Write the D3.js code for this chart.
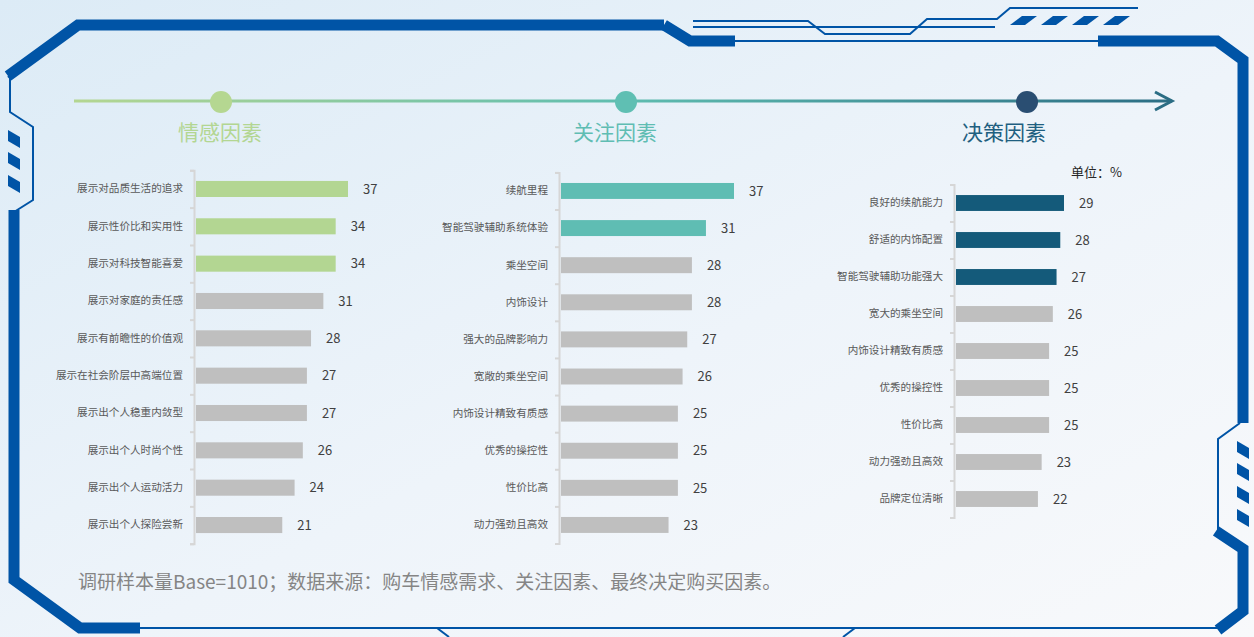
<!DOCTYPE html>
<html>
<head>
<meta charset="utf-8">
<script src="https://cdn.jsdelivr.net/npm/d3@7"></script>
<style>
  html, body { margin: 0; padding: 0; overflow: hidden; }
  body { width: 1254px; height: 637px; font-family: "Noto Sans CJK SC", "Noto Sans", sans-serif; }
</style>
</head>
<body>
<div id="chart-area"></div>
<script>
// data
const emotionNames = ["展示对品质生活的追求", "展示性价比和实用性", "展示对科技智能喜爱", "展示对家庭的责任感",
  "展示有前瞻性的价值观", "展示在社会阶层中高端位置", "展示出个人稳重内敛型", "展示出个人时尚个性",
  "展示出个人运动活力", "展示出个人探险尝新"];
const emotionValues = [37, 34, 34, 31, 28, 27, 27, 26, 24, 21];

const focusNames = ["续航里程", "智能驾驶辅助系统体验", "乘坐空间", "内饰设计", "强大的品牌影响力",
  "宽敞的乘坐空间", "内饰设计精致有质感", "优秀的操控性", "性价比高", "动力强劲且高效"];
const focusValues = [37, 31, 28, 28, 27, 26, 25, 25, 25, 23];

const decisionNames = ["良好的续航能力", "舒适的内饰配置", "智能驾驶辅助功能强大", "宽大的乘坐空间",
  "内饰设计精致有质感", "优秀的操控性", "性价比高", "动力强劲且高效", "品牌定位清晰"];
const decisionValues = [29, 28, 27, 26, 25, 25, 25, 23, 22];

const titles = ["情感因素", "关注因素", "决策因素"];
const unitLabel = "单位：%";
const footnote = "调研样本量Base=1010；数据来源：购车情感需求、关注因素、最终决定购买因素。";

const main = () => {
  const size = { width: 1254, height: 637 };
  const frameBlue = "#0054a6";
  const grey = "#bfbfbf";

  const svg = d3.select("#chart-area")
    .append("svg")
    .attr("width", size.width)
    .attr("height", size.height);

  const defs = svg.append("defs");
  const bg = defs.append("linearGradient").attr("id", "bg")
    .attr("x1", "0%").attr("y1", "0%").attr("x2", "100%").attr("y2", "100%");
  bg.append("stop").attr("offset", "0%").attr("stop-color", "#dcebf6");
  bg.append("stop").attr("offset", "55%").attr("stop-color", "#eef4fa");
  bg.append("stop").attr("offset", "100%").attr("stop-color", "#f8f9fb");

  const lineGrad = defs.append("linearGradient").attr("id", "timeline")
    .attr("gradientUnits", "userSpaceOnUse")
    .attr("x1", 74).attr("x2", 1174).attr("y1", 0).attr("y2", 0);
  lineGrad.append("stop").attr("offset", "0%").attr("stop-color", "#b4d691");
  lineGrad.append("stop").attr("offset", "50%").attr("stop-color", "#5fbdb0");
  lineGrad.append("stop").attr("offset", "100%").attr("stop-color", "#2b6d84");

  svg.append("rect")
    .attr("width", size.width)
    .attr("height", size.height)
    .attr("fill", "url(#bg)");

  // frame decoration
  const line = d3.line();
  const frame = svg.append("g").attr("fill", "none").attr("stroke", frameBlue);

  const thick = [
    [[664, 25], [78, 25], [8, 76]],
    [[664, 25], [690, 41], [735, 41]],
    [[1098, 41], [1217, 41], [1243, 60], [1243, 423]],
    [[14, 210], [14, 580], [80, 628], [140, 628]],
    [[1216, 531], [1243, 549], [1243, 611], [1218, 630]]
  ];
  frame.selectAll(".thick").data(thick).enter().append("path")
    .attr("class", "thick")
    .attr("d", line)
    .attr("stroke-width", 11)
    .attr("stroke-linejoin", "miter");

  const thin = [
    [[8, 76], [10, 78], [10, 112], [33, 127], [33, 200], [14, 212]],
    [[735, 41], [1098, 41]],
    [[140, 628], [1218, 628]],
    [[1218, 531], [1218, 439], [1240, 423]],
    [[693, 21], [808, 21], [825, 34], [910, 34], [927, 19], [997, 19], [1010, 8], [1138, 8]],
    [[693, 27], [995, 27]],
    [[437, 628], [449, 637]],
    [[855, 628], [843, 637]]
  ];
  frame.selectAll(".thin").data(thin).enter().append("path")
    .attr("class", "thin")
    .attr("d", line)
    .attr("stroke-width", 2);

  const topSlants = d3.range(4).map(i => [[1022 + i * 31, 16], [1037 + i * 31, 16], [1025 + i * 31, 25], [1010 + i * 31, 25]]);
  const leftSlants = [130, 152, 175].map(y => [[8, y], [20, y + 7], [20, y + 18], [8, y + 11]]);
  const rightSlants = [441, 463, 486, 509].map(y => [[1237, y], [1249, y + 7], [1249, y + 18], [1237, y + 11]]);
  svg.append("g").selectAll("path")
    .data(topSlants.concat(leftSlants, rightSlants))
    .enter().append("path")
    .attr("d", d => line(d) + "Z")
    .attr("fill", frameBlue);

  // timeline
  svg.append("line")
    .attr("x1", 74).attr("x2", 1172)
    .attr("y1", 101).attr("y2", 101)
    .attr("stroke", "url(#timeline)")
    .attr("stroke-width", 3);
  svg.append("path")
    .attr("d", line([[1155, 92], [1172, 101], [1155, 110]]))
    .attr("fill", "none")
    .attr("stroke", "#2b6d84")
    .attr("stroke-width", 3);

  const panels = [
    { names: emotionNames, values: emotionValues, hi: 3, color: "#b3d692", dot: "#b5d791", titleColor: "#b3d692",
      x0: 196, x1: 348, y0: 170.3, y1: 543.7, cx: 221, tx: 220 },
    { names: focusNames, values: focusValues, hi: 2, color: "#5fbdb3", dot: "#5fbfb3", titleColor: "#5fbdb3",
      x0: 561, x1: 734, y0: 172.4, y1: 543.5, cx: 626, tx: 615 },
    { names: decisionNames, values: decisionValues, hi: 3, color: "#145a7a", dot: "#2a4e72", titleColor: "#1f5f80",
      x0: 956, x1: 1064, y0: 184.5, y1: 517.5, cx: 1027, tx: 1004 }
  ];

  panels.forEach((p, k) => {
    const data = p.names.map((n, i) => ({ name: n, value: p.values[i], hi: i < p.hi }));

    svg.append("circle")
      .attr("cx", p.cx).attr("cy", 102).attr("r", 11)
      .attr("fill", p.dot);

    svg.append("text")
      .attr("x", p.tx).attr("y", 140)
      .attr("text-anchor", "middle")
      .attr("font-size", 21)
      .attr("fill", p.titleColor)
      .text(titles[k]);

    const y = d3.scaleBand()
      .domain(p.names)
      .range([p.y0, p.y1])
      .paddingInner(0.57)
      .paddingOuter(0.285);

    const x = d3.scaleLinear()
      .domain([0, d3.max(p.values)])
      .range([p.x0, p.x1]);

    // axis line with ticks at band boundaries
    const yEdge = d3.scaleLinear().domain([0, p.names.length]).range([p.y0, p.y1]);
    const edgeAxis = svg.append("g")
      .attr("transform", `translate(${p.x0 - 2}, 0)`)
      .call(d3.axisLeft(yEdge).ticks(p.names.length).tickFormat("").tickSize(4).tickSizeOuter(4));
    edgeAxis.selectAll("path, line").attr("stroke", "#d6d6d6").attr("stroke-width", 2);

    const labelAxis = svg.append("g")
      .attr("transform", `translate(${p.x0 - 13}, 0)`)
      .call(d3.axisLeft(y).tickSize(0).tickPadding(0));
    labelAxis.select(".domain").remove();
    labelAxis.selectAll("text")
      .attr("font-family", "'Noto Sans CJK SC', sans-serif")
      .attr("font-size", 10.6)
      .attr("fill", "#595959");

    svg.append("g").selectAll("rect")
      .data(data).enter().append("rect")
      .attr("x", x(0))
      .attr("y", d => y(d.name))
      .attr("width", d => x(d.value) - x(0))
      .attr("height", y.bandwidth())
      .attr("fill", d => d.hi ? p.color : grey);

    svg.append("g").selectAll("text")
      .data(data).enter().append("text")
      .attr("x", d => x(d.value) + 15)
      .attr("y", d => y(d.name) + y.bandwidth() / 2)
      .attr("dy", "0.36em")
      .attr("font-size", 13)
      .attr("fill", "#404040")
      .text(d => d.value);
  });

  svg.append("text")
    .attr("x", 1071).attr("y", 177)
    .attr("font-size", 13)
    .attr("fill", "#262626")
    .text(unitLabel);

  svg.append("text")
    .attr("x", 78).attr("y", 589)
    .attr("font-size", 19)
    .attr("fill", "#858585")
    .text(footnote);
};

window.onload = main;
</script>
</body>
</html>
